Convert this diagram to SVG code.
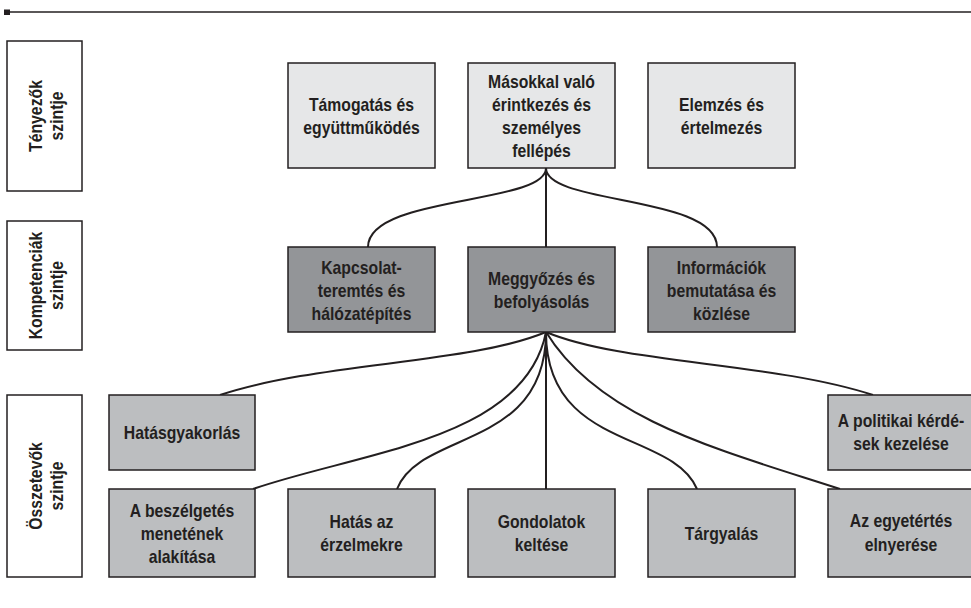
<svg xmlns="http://www.w3.org/2000/svg" width="971" height="608" viewBox="0 0 971 608">
<style>
  .lbl { fill: #ffffff; stroke: #231f20; stroke-width: 1.5; }
  .t1 { fill: #e6e7e8; stroke: #231f20; stroke-width: 1.5; }
  .t2 { fill: #939598; stroke: #231f20; stroke-width: 1.5; }
  .t3 { fill: #bcbec0; stroke: #231f20; stroke-width: 1.5; }
  text { font-family: "Liberation Sans", Arial, sans-serif; font-size: 19px; font-weight: bold; fill: #231f20; text-anchor: middle; }
  .conn path { fill: none; stroke: #231f20; stroke-width: 2; }
</style>
<rect width="971" height="608" fill="#ffffff"/>
<g id="header">
  <line x1="6" y1="12" x2="971" y2="12" stroke="#231f20" stroke-width="1.3"/>
  <rect x="4" y="9.5" width="6" height="5.5" fill="#231f20"/>
</g>
<g id="level-factors">
  <rect class="lbl" x="7" y="41" width="75" height="150"/>
  <text transform="translate(44.5,116) rotate(-90) scale(0.83,1)"><tspan x="0" y="-3">Tényezők</tspan><tspan x="0" y="19">szintje</tspan></text>
</g>
<g id="level-competencies">
  <rect class="lbl" x="7" y="221" width="75" height="129"/>
  <text transform="translate(44.5,285.5) rotate(-90) scale(0.83,1)"><tspan x="0" y="-3">Kompetenciák</tspan><tspan x="0" y="19">szintje</tspan></text>
</g>
<g id="level-components">
  <rect class="lbl" x="7" y="395" width="75" height="182"/>
  <text transform="translate(44.5,486) rotate(-90) scale(0.83,1)"><tspan x="0" y="-3">Összetevők</tspan><tspan x="0" y="19">szintje</tspan></text>
</g>
<g class="conn" id="connectors">
  <path d="M546,168 V247"/>
  <path d="M546,168 C546,205 368,195 368,247"/>
  <path d="M546,168 C546,205 717,195 717,247"/>
  <path d="M546,332 V489"/>
  <path d="M546,332 C470,364 320,362 220,395"/>
  <path d="M546,332 C525,440 360,452 253,489"/>
  <path d="M546,332 C546,450 420,430 397,489"/>
  <path d="M546,332 C546,450 672,430 697,489"/>
  <path d="M546,332 C600,420 720,450 840,489"/>
  <path d="M546,332 C622,364 772,362 873,395"/>
</g>
<g id="n-tamogatas">
  <rect class="t1" x="288" y="63" width="147" height="105"/>
  <text transform="translate(361.5,0) scale(0.83,1)"><tspan x="0" y="111">Támogatás és</tspan><tspan x="0" y="134">együttműködés</tspan></text>
</g>
<g id="n-masokkal">
  <rect class="t1" x="468" y="63" width="147" height="105"/>
  <text transform="translate(541.5,0) scale(0.83,1)"><tspan x="0" y="88">Másokkal való</tspan><tspan x="0" y="111">érintkezés és</tspan><tspan x="0" y="134">személyes</tspan><tspan x="0" y="157">fellépés</tspan></text>
</g>
<g id="n-elemzes">
  <rect class="t1" x="648" y="63" width="147" height="105"/>
  <text transform="translate(721.5,0) scale(0.83,1)"><tspan x="0" y="111">Elemzés és</tspan><tspan x="0" y="134">értelmezés</tspan></text>
</g>
<g id="n-kapcsolat">
  <rect class="t2" x="288" y="247" width="147" height="85"/>
  <text transform="translate(361.5,0) scale(0.83,1)"><tspan x="0" y="274">Kapcsolat-</tspan><tspan x="0" y="297">teremtés és</tspan><tspan x="0" y="320">hálózatépítés</tspan></text>
</g>
<g id="n-meggyozes">
  <rect class="t2" x="468" y="247" width="147" height="85"/>
  <text transform="translate(541.5,0) scale(0.83,1)"><tspan x="0" y="285">Meggyőzés és</tspan><tspan x="0" y="308">befolyásolás</tspan></text>
</g>
<g id="n-informaciok">
  <rect class="t2" x="648" y="247" width="147" height="85"/>
  <text transform="translate(721.5,0) scale(0.83,1)"><tspan x="0" y="274">Információk</tspan><tspan x="0" y="297">bemutatása és</tspan><tspan x="0" y="320">közlése</tspan></text>
</g>
<g id="n-hatasgyakorlas">
  <rect class="t3" x="109" y="395" width="146" height="75"/>
  <text transform="translate(182,0) scale(0.83,1)" x="0" y="439">Hatásgyakorlás</text>
</g>
<g id="n-politikai">
  <rect class="t3" x="828" y="395" width="147" height="75"/>
  <text transform="translate(901,0) scale(0.83,1)"><tspan x="0" y="427">A politikai kérdé-</tspan><tspan x="0" y="450">sek kezelése</tspan></text>
</g>
<g id="n-beszelgetes">
  <rect class="t3" x="109" y="489" width="146" height="88"/>
  <text transform="translate(182,0) scale(0.83,1)"><tspan x="0" y="517">A beszélgetés</tspan><tspan x="0" y="540">menetének</tspan><tspan x="0" y="563">alakítása</tspan></text>
</g>
<g id="n-hatas-erzelmek">
  <rect class="t3" x="288" y="489" width="147" height="88"/>
  <text transform="translate(361.5,0) scale(0.83,1)"><tspan x="0" y="528">Hatás az</tspan><tspan x="0" y="551">érzelmekre</tspan></text>
</g>
<g id="n-gondolatok">
  <rect class="t3" x="468" y="489" width="147" height="88"/>
  <text transform="translate(541.5,0) scale(0.83,1)"><tspan x="0" y="528">Gondolatok</tspan><tspan x="0" y="551">keltése</tspan></text>
</g>
<g id="n-targyalas">
  <rect class="t3" x="648" y="489" width="147" height="88"/>
  <text transform="translate(721.5,0) scale(0.83,1)" x="0" y="540">Tárgyalás</text>
</g>
<g id="n-egyetertes">
  <rect class="t3" x="828" y="489" width="147" height="88"/>
  <text transform="translate(901,0) scale(0.83,1)"><tspan x="0" y="527">Az egyetértés</tspan><tspan x="0" y="551">elnyerése</tspan></text>
</g>
</svg>
